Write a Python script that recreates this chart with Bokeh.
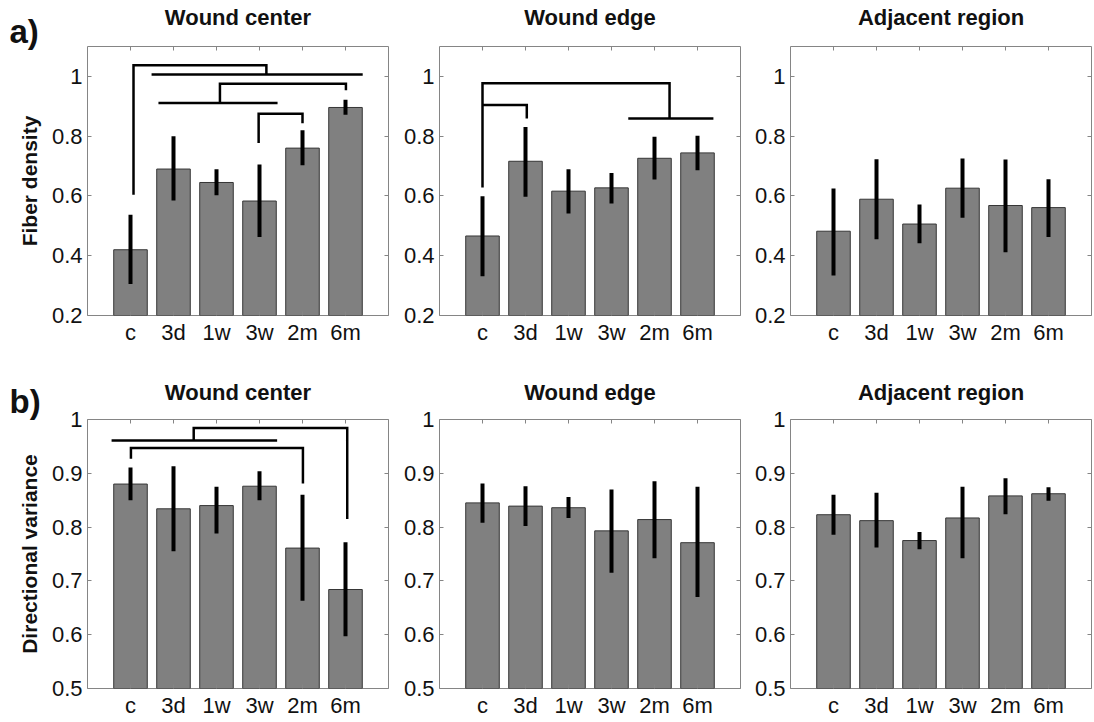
from bokeh.plotting import figure
from bokeh.models import FixedTicker, LinearAxis, Range1d, ColumnDataSource
from bokeh.layouts import column, row
from bokeh.embed import file_html
from bokeh.resources import INLINE
from bokeh.core.properties import value

# ---------------- data ----------------
categories = ["c", "3d", "1w", "3w", "2m", "6m"]
cat_pos = [1, 2, 3, 4, 5, 6]

panel_titles = ["Wound center", "Wound edge", "Adjacent region"]
row_letters = ["a)", "b)"]
row_ylabels = ["Fiber density", "Directional variance"]

fd_ticks = [0.2, 0.4, 0.6, 0.8, 1.0]
fd_tick_labels = ["0.2", "0.4", "0.6", "0.8", "1"]
fd_range = [0.2, 1.1]
dv_ticks = [0.5, 0.6, 0.7, 0.8, 0.9, 1.0]
dv_tick_labels = ["0.5", "0.6", "0.7", "0.8", "0.9", "1"]
dv_range = [0.5, 1.0]

# a) Fiber density
fd_center_mean = [0.420, 0.690, 0.645, 0.583, 0.760, 0.896]
fd_center_lo = [0.305, 0.585, 0.602, 0.463, 0.703, 0.872]
fd_center_hi = [0.537, 0.800, 0.689, 0.705, 0.820, 0.922]

fd_edge_mean = [0.466, 0.716, 0.616, 0.627, 0.726, 0.744]
fd_edge_lo = [0.331, 0.597, 0.541, 0.575, 0.655, 0.686]
fd_edge_hi = [0.599, 0.831, 0.689, 0.677, 0.798, 0.801]

fd_adj_mean = [0.482, 0.589, 0.506, 0.626, 0.568, 0.561]
fd_adj_lo = [0.334, 0.455, 0.442, 0.527, 0.412, 0.463]
fd_adj_hi = [0.625, 0.723, 0.571, 0.725, 0.722, 0.656]

# b) Directional variance
dv_center_mean = [0.880, 0.834, 0.840, 0.876, 0.761, 0.684]
dv_center_lo = [0.850, 0.755, 0.788, 0.850, 0.663, 0.597]
dv_center_hi = [0.911, 0.913, 0.875, 0.904, 0.860, 0.772]

dv_edge_mean = [0.845, 0.839, 0.836, 0.793, 0.814, 0.771]
dv_edge_lo = [0.808, 0.802, 0.817, 0.715, 0.742, 0.670]
dv_edge_hi = [0.881, 0.876, 0.856, 0.870, 0.885, 0.875]

dv_adj_mean = [0.823, 0.812, 0.775, 0.817, 0.858, 0.862]
dv_adj_lo = [0.786, 0.762, 0.759, 0.742, 0.824, 0.849]
dv_adj_hi = [0.860, 0.864, 0.791, 0.875, 0.891, 0.874]

# significance brackets (polylines in data units)
fd_center_br_x = [[1.07, 1.07, 4.16, 4.16], [1.49, 6.40], [1.65, 4.42],
                  [3.08, 3.08, 6.01, 6.01], [3.98, 3.98, 5.0, 5.0]]
fd_center_br_y = [[0.604, 1.037, 1.037, 1.006], [1.006, 1.006], [0.911, 0.911],
                  [0.911, 0.975, 0.975, 0.954], [0.777, 0.875, 0.875, 0.843]]
fd_edge_br_x = [[1.0, 1.0, 5.35, 5.35], [4.39, 6.37], [1.0, 2.03, 2.03]]
fd_edge_br_y = [[0.628, 0.977, 0.977, 0.859], [0.859, 0.859], [0.904, 0.904, 0.859]]
dv_center_br_x = [[0.56, 4.41], [2.47, 2.47, 6.04, 6.04], [1.01, 1.01, 5.01, 5.01]]
dv_center_br_y = [[0.961, 0.961], [0.961, 0.984, 0.984, 0.815], [0.927, 0.947, 0.947, 0.881]]

# ---------------- styling / layout ----------------
FONT = "Liberation Sans"
FRAME_COL = "#858585"
BAR_FILL = "#808080"
BAR_LINE = "#363636"
TEXT_COL = "#111111"
FRAME_W, FRAME_H = 301, 269
COL_LEFT = [87, 49, 48]     # left borders of the three panel columns
COL_RIGHT = 2
COL_W = [l + FRAME_W + COL_RIGHT for l in COL_LEFT]
TOTAL_W = sum(COL_W)
PANEL_TOP = 14              # top border of every panel figure
OVERLAP = 30                # header strip reaches this far into the panel row below
ROW_HEADER_H = [62, 68]     # header strip (titles + panel letter) above each row
TITLE_Y = [17, 25]          # title centre, px from the header top
LETTER_Y = [31, 34]         # letter centre, px from the header top
LETTER_X = 9


def make_header(r):
    h = ROW_HEADER_H[r]
    p = figure(width=TOTAL_W, height=h, x_range=Range1d(0, TOTAL_W), y_range=Range1d(h, 0),
               x_axis_type=None, y_axis_type=None, toolbar_location=None,
               output_backend="svg", min_border=0)
    p.margin = (0, 0, -OVERLAP, 0)
    p.outline_line_color = None
    p.background_fill_color = "white"
    p.border_fill_color = "white"
    col_start = [sum(COL_W[:c]) for c in range(3)]
    xs = [col_start[c] + COL_LEFT[c] + FRAME_W / 2 for c in range(3)]
    p.text(x=xs, y=[TITLE_Y[r]] * 3, text=panel_titles,
           text_align="center", text_baseline="middle",
           text_font=value(FONT), text_font_size=value("22px"),
           text_font_style="bold", text_color=TEXT_COL)
    p.text(x=[LETTER_X], y=[LETTER_Y[r]], text=[row_letters[r]],
           text_align="left", text_baseline="middle",
           text_font=value(FONT), text_font_size=value("33px"),
           text_font_style="bold", text_color=TEXT_COL)
    return p


def make_panel(col, mean, lo, hi, ticks, tick_labels, yr, br_x, br_y, ylabel, bb):
    p = figure(frame_width=FRAME_W, frame_height=FRAME_H,
               x_range=Range1d(0, 7), y_range=Range1d(yr[0], yr[1]),
               output_backend="svg", toolbar_location=None,
               min_border_left=COL_LEFT[col], min_border_right=COL_RIGHT,
               min_border_top=PANEL_TOP, min_border_bottom=bb)
    p.background_fill_color = "white"
    p.border_fill_color = None
    p.outline_line_color = FRAME_COL
    p.outline_line_width = 1
    p.xgrid.visible = False
    p.ygrid.visible = False

    xa = p.xaxis[0]
    xa.ticker = FixedTicker(ticks=cat_pos)
    xa.major_label_overrides = dict(zip(cat_pos, categories))
    ya = p.yaxis[0]
    ya.ticker = FixedTicker(ticks=ticks)
    ya.major_label_overrides = dict(zip(ticks, tick_labels))
    for ax in (xa, ya):
        ax.axis_line_color = None
        ax.major_tick_in = 4
        ax.major_tick_out = 0
        ax.major_tick_line_color = FRAME_COL
        ax.minor_tick_line_color = None
        ax.major_label_text_font = FONT
        ax.major_label_text_font_size = "22px"
        ax.major_label_text_color = TEXT_COL
    xa.major_label_standoff = 4
    ya.major_label_standoff = 5
    if ylabel:
        ya.axis_label = ylabel
        ya.axis_label_text_font = FONT
        ya.axis_label_text_font_size = "21px"
        ya.axis_label_text_font_style = "bold"
        ya.axis_label_text_color = TEXT_COL
        ya.axis_label_standoff = 8

    # inward tick marks on the top and right frame edges (no labels)
    top = LinearAxis(ticker=FixedTicker(ticks=cat_pos))
    right = LinearAxis(ticker=FixedTicker(ticks=ticks))
    for ax in (top, right):
        ax.axis_line_color = None
        ax.major_tick_in = 4
        ax.major_tick_out = 0
        ax.major_tick_line_color = FRAME_COL
        ax.minor_tick_line_color = None
        ax.major_label_text_font_size = "0px"
        ax.major_label_text_color = None
        ax.major_label_standoff = 0
    p.add_layout(top, "above")
    p.add_layout(right, "right")

    src = ColumnDataSource(dict(x=cat_pos, mean=mean, lo=lo, hi=hi))
    p.vbar(x="x", top="mean", bottom=yr[0], width=0.78, source=src,
           fill_color=BAR_FILL, line_color=BAR_LINE, line_width=1)
    p.segment(x0="x", y0="lo", x1="x", y1="hi", source=src,
              line_color="black", line_width=4)
    if br_x:
        p.multi_line(xs=br_x, ys=br_y, line_color="black", line_width=2.5,
                     line_join="miter")
    return p


row1_panels = [
    make_panel(0, fd_center_mean, fd_center_lo, fd_center_hi, fd_ticks, fd_tick_labels, fd_range,
               fd_center_br_x, fd_center_br_y, row_ylabels[0], 52),
    make_panel(1, fd_edge_mean, fd_edge_lo, fd_edge_hi, fd_ticks, fd_tick_labels, fd_range,
               fd_edge_br_x, fd_edge_br_y, None, 52),
    make_panel(2, fd_adj_mean, fd_adj_lo, fd_adj_hi, fd_ticks, fd_tick_labels, fd_range,
               None, None, None, 52),
]
row2_panels = [
    make_panel(0, dv_center_mean, dv_center_lo, dv_center_hi, dv_ticks, dv_tick_labels, dv_range,
               dv_center_br_x, dv_center_br_y, row_ylabels[1], 30),
    make_panel(1, dv_edge_mean, dv_edge_lo, dv_edge_hi, dv_ticks, dv_tick_labels, dv_range,
               None, None, None, 30),
    make_panel(2, dv_adj_mean, dv_adj_lo, dv_adj_hi, dv_ticks, dv_tick_labels, dv_range,
               None, None, None, 30),
]

layout = column(make_header(0), row(*row1_panels, spacing=0),
                make_header(1), row(*row2_panels, spacing=0), spacing=0)
open("out.html", "w").write(file_html(layout, INLINE))
